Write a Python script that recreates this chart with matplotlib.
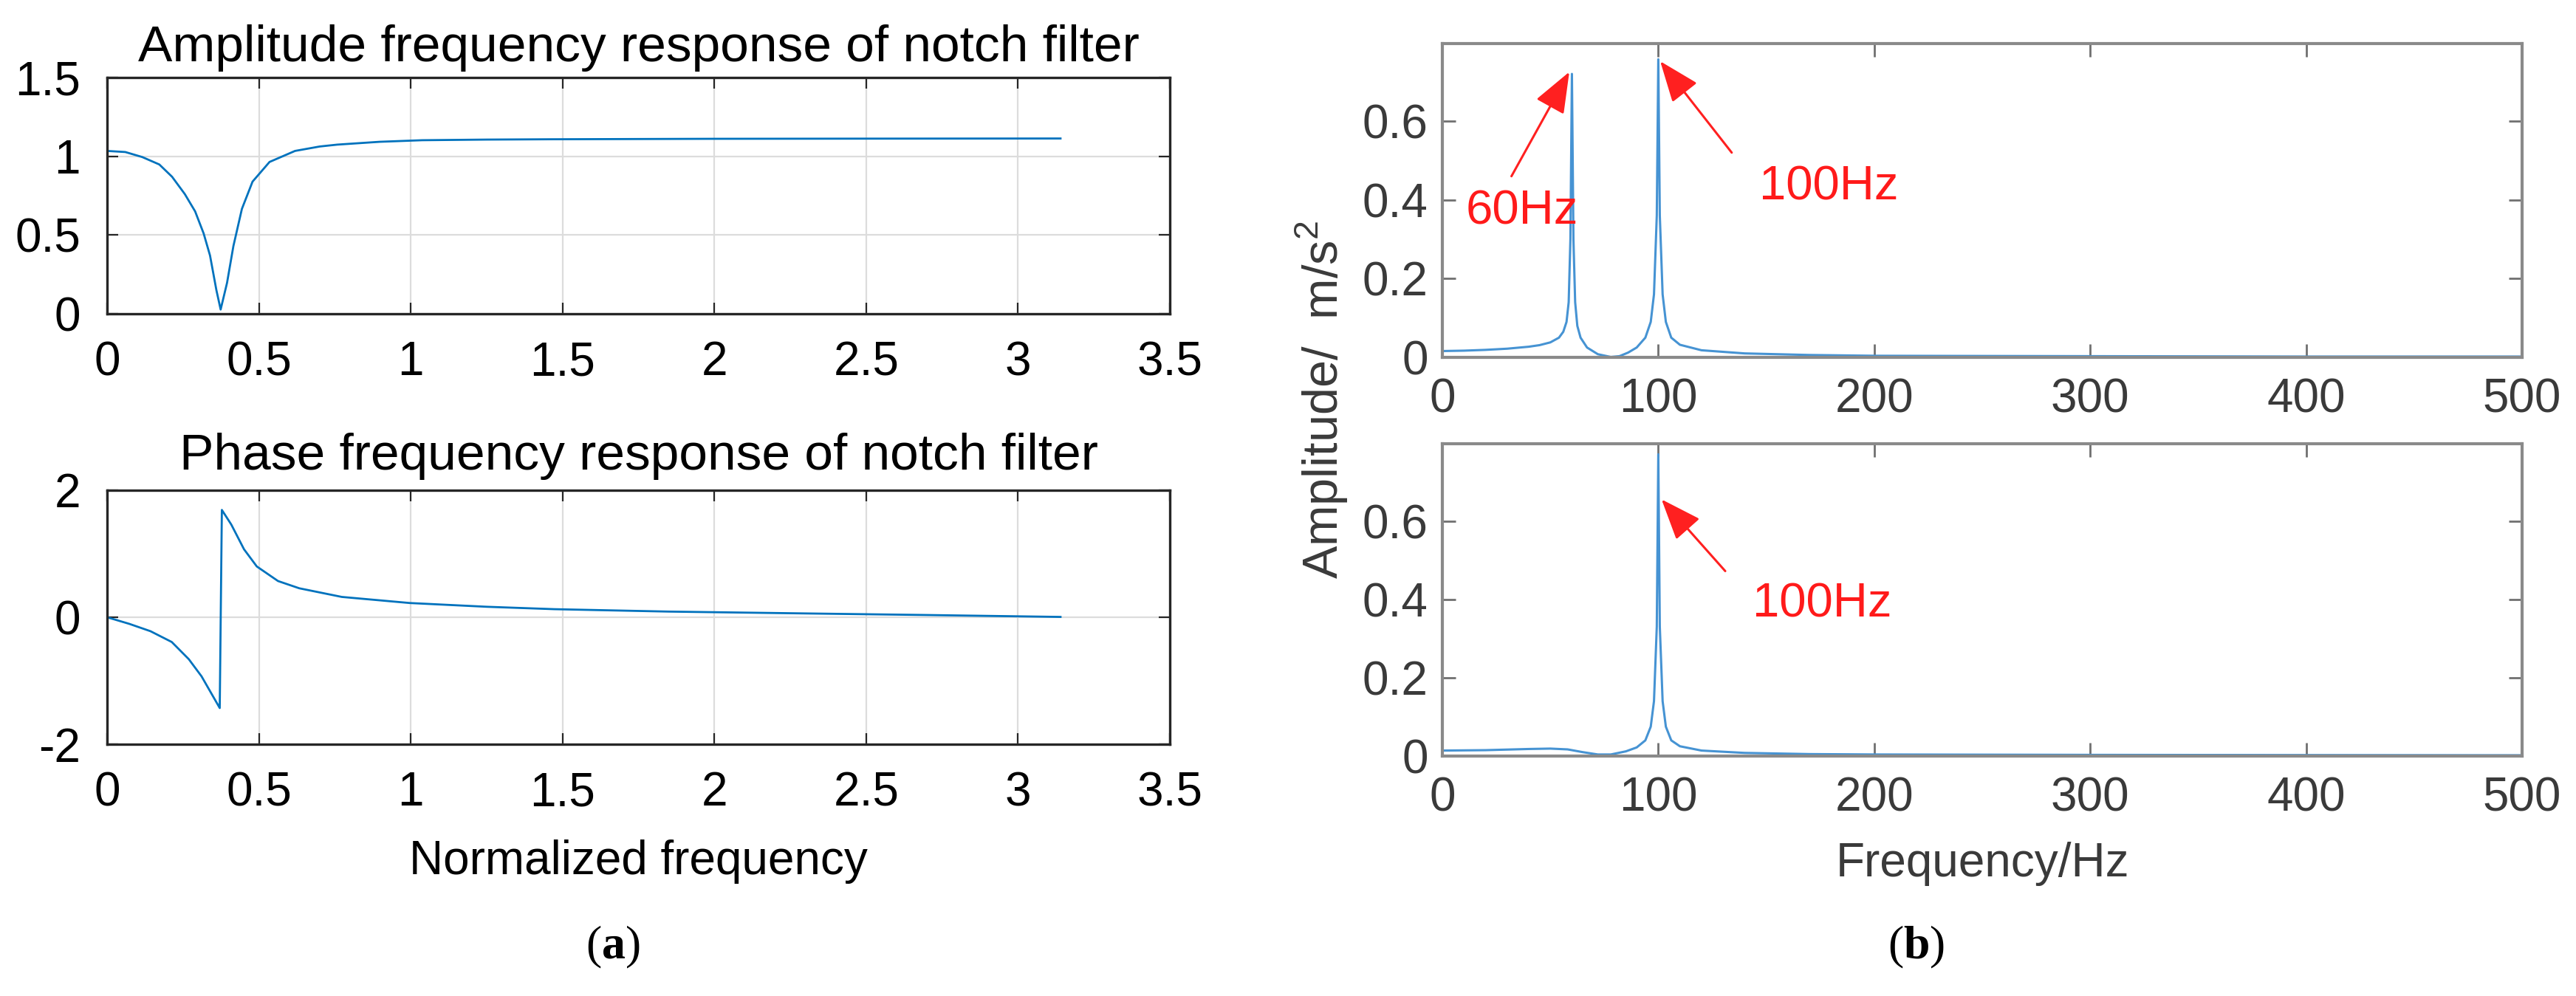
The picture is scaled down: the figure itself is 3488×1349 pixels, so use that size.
import matplotlib
matplotlib.use("Agg")
import matplotlib.pyplot as plt

# ---- data ----
# (a) notch filter, normalized frequency (rad/sample)
amp_w = [0, 0.06, 0.116, 0.172, 0.214, 0.256, 0.29, 0.318, 0.339, 0.36, 0.374,
         0.395, 0.416, 0.444, 0.479, 0.535, 0.619, 0.70, 0.758, 0.898, 1.038, 1.25,
         1.457, 2.00, 2.50, 3.14]
amp_h = [1.034, 1.027, 0.995, 0.948, 0.87, 0.76, 0.65, 0.51, 0.37, 0.15, 0.027,
         0.196, 0.43, 0.666, 0.839, 0.964, 1.034, 1.062, 1.074, 1.092, 1.102, 1.106,
         1.108, 1.111, 1.112, 1.113]

ph_w = [0, 0.073, 0.143, 0.213, 0.269, 0.311, 0.353, 0.371, 0.378, 0.409, 0.451,
        0.493, 0.563, 0.633, 0.773, 0.997, 1.25, 1.473, 1.85, 2.30, 2.70, 3.14]
ph_v = [0, -0.104, -0.22, -0.39, -0.66, -0.93, -1.28, -1.43, 1.69, 1.46, 1.07,
        0.80, 0.57, 0.456, 0.32, 0.224, 0.165, 0.127, 0.089, 0.06, 0.035, 0.005]

# (b) spectra, Hz vs m/s^2
spec1_f = [0, 10, 20, 30, 40, 45, 50, 54, 56, 57.5, 58.5, 59.3, 60, 60.7, 61.5, 62.5, 64, 67,
           72, 78, 82, 86, 90, 94, 96.5, 98, 99.3, 100, 100.7, 102, 103.5, 106, 110, 120,
           140, 170, 200, 300, 400, 500]
spec1_a = [0.016, 0.017, 0.019, 0.022, 0.027, 0.031, 0.038, 0.05, 0.065, 0.09, 0.14, 0.30,
           0.72, 0.30, 0.14, 0.08, 0.05, 0.025, 0.008, 0.001, 0.003, 0.012, 0.025, 0.05,
           0.09, 0.16, 0.36, 0.757, 0.36, 0.16, 0.09, 0.05, 0.032, 0.018, 0.010, 0.006,
           0.004, 0.003, 0.002, 0.002]

spec2_f = [0, 20, 40, 50, 58, 65, 72, 78, 85, 90, 94, 96.5, 98, 99.3, 100, 100.7, 102, 103.5,
           106, 110, 120, 140, 170, 200, 300, 500]
spec2_a = [0.014, 0.015, 0.018, 0.019, 0.017, 0.010, 0.004, 0.004, 0.012, 0.022, 0.04, 0.075,
           0.14, 0.33, 0.77, 0.33, 0.14, 0.075, 0.04, 0.025, 0.014, 0.008, 0.005, 0.004,
           0.003, 0.002]

a_xticks = [0, 0.5, 1, 1.5, 2, 2.5, 3, 3.5]
a_xlabels = ["0", "0.5", "1", "1.5", "2", "2.5", "3", "3.5"]
amp_yticks = [0, 0.5, 1, 1.5]
amp_ylabels = ["0", "0.5", "1", "1.5"]
ph_yticks = [-2, 0, 2]
ph_ylabels = ["-2", "0", "2"]
b_xticks = [0, 100, 200, 300, 400, 500]
b_yticks = [0, 0.2, 0.4, 0.6]
b_ylabels = ["0", "0.2", "0.4", "0.6"]

# annotations: (text, text xy, arrow tail, arrow head)
top_notes = [("60Hz", (37, 0.37), (32, 0.46), (58.8, 0.725)),
             ("100Hz", (179, 0.433), (134, 0.52), (100.9, 0.752))]
bottom_notes = [("100Hz", (176, 0.387), (131, 0.472), (101.5, 0.655))]

W, H = 3488, 1349
DPI = 100
FS = 46

plt.rcParams['font.family'] = ['Liberation Sans', 'DejaVu Sans']
plt.rcParams['mathtext.fontset'] = 'custom'
plt.rcParams['mathtext.rm'] = 'Liberation Sans'
plt.rcParams['mathtext.bf'] = 'Liberation Serif:bold'


def rect(x0, y0, x1, y1):
    return [x0 / W, 1 - y1 / H, (x1 - x0) / W, (y1 - y0) / H]


def style_left(ax):
    for s in ax.spines.values():
        s.set_color('#262626')
        s.set_linewidth(2.4)
    ax.tick_params(direction='in', top=True, right=True, length=11, width=1.6,
                   colors='#262626', labelsize=FS, labelcolor='black')
    ax.tick_params(axis='x', pad=26)
    ax.tick_params(axis='y', pad=26)
    ax.grid(True, color='#dcdcdc', linewidth=1.6)
    ax.set_axisbelow(True)


def style_right(ax):
    for s in ax.spines.values():
        s.set_color('#8a8a8a')
        s.set_linewidth(3)
    ax.tick_params(direction='in', top=True, right=True, length=13, width=2,
                   colors='#707070', labelsize=FS, labelcolor='#3a3a3a')
    ax.tick_params(axis='x', pad=20)
    ax.tick_params(axis='y', pad=14)


def add_notes(ax, notes):
    for txt, xy, tail, head in notes:
        ax.text(xy[0], xy[1], txt, color='#ff1a1a', fontsize=47, ha='center', va='center')
        ax.annotate('', xy=head, xytext=tail,
                    arrowprops=dict(arrowstyle='-|>,head_length=0.72,head_width=0.28',
                                    color='#ff2020', lw=2.2, mutation_scale=48,
                                    shrinkA=0, shrinkB=0))


def main():
    fig = plt.figure(figsize=(W / DPI, H / DPI), dpi=DPI)

    # (a) top: amplitude
    ax1 = fig.add_axes(rect(145, 105, 1584, 425))
    ax1.plot(amp_w, amp_h, color='#0072BD', lw=2.0)
    ax1.set_xlim(0, 3.5)
    ax1.set_ylim(0, 1.5)
    ax1.set_xticks(a_xticks, a_xlabels)
    ax1.set_yticks(amp_yticks, amp_ylabels)
    style_left(ax1)
    ax1.set_title("Amplitude frequency response of notch filter", fontsize=50, pad=16)

    # (a) bottom: phase
    ax2 = fig.add_axes(rect(145, 664, 1584, 1008))
    ax2.plot(ph_w, ph_v, color='#0072BD', lw=2.0)
    ax2.set_xlim(0, 3.5)
    ax2.set_ylim(-2, 2)
    ax2.set_xticks(a_xticks, a_xlabels)
    ax2.set_yticks(ph_yticks, ph_ylabels)
    style_left(ax2)
    ax2.set_title("Phase frequency response of notch filter", fontsize=50, pad=20)
    ax2.set_xlabel("Normalized frequency", fontsize=FS, labelpad=24)

    # (b) top spectrum
    ax3 = fig.add_axes(rect(1953, 59, 3415, 484))
    ax3.plot(spec1_f, spec1_a, color='#4693d3', lw=2.2)
    ax3.set_xlim(0, 500)
    ax3.set_ylim(0, 0.797)
    ax3.set_xticks(b_xticks)
    ax3.set_yticks(b_yticks, b_ylabels)
    style_right(ax3)
    add_notes(ax3, top_notes)

    # (b) bottom spectrum
    ax4 = fig.add_axes(rect(1953, 601, 3415, 1024))
    ax4.plot(spec2_f, spec2_a, color='#4693d3', lw=2.2)
    ax4.set_xlim(0, 500)
    ax4.set_ylim(0, 0.797)
    ax4.set_xticks(b_xticks)
    ax4.set_yticks(b_yticks, b_ylabels)
    style_right(ax4)
    add_notes(ax4, bottom_notes)
    ax4.set_xlabel("Frequency/Hz", fontsize=FS, color='#3a3a3a', labelpad=20)

    fig.text(1790 / W, 1 - 541 / H, r"Amplitude/  m/s$^{\mathrm{2}}$", rotation=90,
             fontsize=48, color='#3a3a3a', ha='center', va='center')

    # panel letters
    fig.text(830 / W, 1 - 1283 / H, r"($\mathbf{a}$)", family='Liberation Serif',
             fontsize=46, ha='center', va='center')
    fig.text(2595 / W, 1 - 1283 / H, r"($\mathbf{b}$)", family='Liberation Serif',
             fontsize=46, ha='center', va='center')

    fig.savefig("out.png", dpi=DPI)


if __name__ == "__main__":
    main()
